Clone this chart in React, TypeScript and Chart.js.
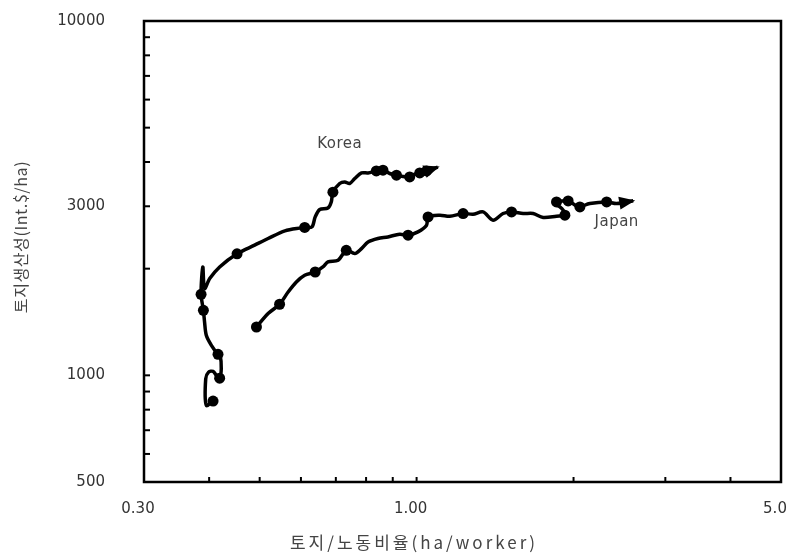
import { useEffect, useRef } from "react";
import { Chart, registerables } from "chart.js";

Chart.register(...registerables);

// Korea path (land/labour ratio, land productivity)
const koreaX = [0.407, 0.395, 0.394, 0.399, 0.407, 0.413, 0.419, 0.422, 0.420, 0.416, 0.404, 0.395, 0.392, 0.390, 0.386, 0.389, 0.392, 0.401, 0.419, 0.4525, 0.489, 0.519, 0.559, 0.601, 0.610, 0.630, 0.639, 0.652, 0.676, 0.686, 0.691, 0.712, 0.728, 0.744, 0.761, 0.784, 0.807, 0.837, 0.862, 0.888, 0.915, 0.935, 0.970, 0.992, 1.014, 1.045, 1.098];
const koreaY = [846, 823, 978, 1021, 1026, 1000, 982, 1044, 1139, 1146, 1215, 1297, 1414, 1526, 1693, 2022, 1757, 1875, 2022, 2203, 2330, 2433, 2557, 2607, 2614, 2624, 2800, 2938, 2968, 3086, 3287, 3478, 3515, 3478, 3593, 3726, 3726, 3775, 3792, 3712, 3671, 3647, 3630, 3695, 3726, 3775, 3870];

// Japan path
const japanX = [0.493, 0.519, 0.546, 0.567, 0.588, 0.610, 0.639, 0.661, 0.676, 0.707, 0.733, 0.761, 0.784, 0.807, 0.843, 0.881, 0.928, 0.963, 1.006, 1.045, 1.052, 1.108, 1.158, 1.228, 1.283, 1.341, 1.402, 1.465, 1.521, 1.601, 1.673, 1.749, 1.855, 1.925, 1.910, 1.883, 1.841, 1.855, 1.953, 2.027, 2.057, 2.149, 2.315, 2.419, 2.603];
const japanY = [1369, 1494, 1587, 1718, 1834, 1916, 1957, 2022, 2089, 2112, 2254, 2206, 2279, 2378, 2433, 2458, 2502, 2486, 2540, 2653, 2800, 2831, 2812, 2862, 2849, 2892, 2741, 2862, 2892, 2862, 2862, 2789, 2812, 2831, 2924, 2988, 3054, 3086, 3106, 3001, 2988, 3054, 3086, 3054, 3110];

// Marked observations
const koreaDotX = [0.407, 0.419, 0.416, 0.390, 0.386, 0.4525, 0.610, 0.691, 0.837, 0.862, 0.915, 0.970, 1.014, 1.045];
const koreaDotY = [846, 982, 1146, 1526, 1693, 2203, 2614, 3287, 3775, 3792, 3671, 3630, 3726, 3775];
const japanDotX = [0.493, 0.546, 0.639, 0.733, 0.963, 1.052, 1.228, 1.521, 1.925, 1.855, 1.953, 2.057, 2.315];
const japanDotY = [1369, 1587, 1957, 2254, 2486, 2800, 2862, 2892, 2831, 3086, 3106, 2988, 3086];

const seriesNames = ["Korea", "Japan"];
const seriesLabelX = [0.712, 2.42];
const seriesLabelY = [4494, 2711];

const xTickValues = [0.3, 0.4, 0.5, 0.6, 0.7, 0.8, 0.9, 1, 2, 3, 4, 5];
const xTickLabels = ["0.30", "", "", "", "", "", "", "1.00", "", "", "", "5.0"];
const yTickValues = [500, 600, 700, 800, 900, 1000, 2000, 3000, 4000, 5000, 6000, 7000, 8000, 9000, 10000];
const yTickLabels = ["500", "", "", "", "", "1000", "", "3000", "", "", "", "", "", "", "10000"];

const xTitle = "토지/노동비율(ha/worker)";
const yTitle = "토지생산성(Int.$/ha)";

const TICK_FONT = "'DejaVu Sans', Verdana, sans-serif";
const KR_FONT = "'Noto Sans CJK KR', 'Noto Sans', sans-serif";

function zip(xs: number[], ys: number[]) {
  return xs.map((x, i) => ({ x, y: ys[i] }));
}

function labelFor(values: number[], labels: string[], v: number) {
  const i = values.findIndex((t) => Math.abs(t - v) < 1e-9 * Math.max(1, t));
  return i >= 0 ? labels[i] : "";
}

const decorPlugin = {
  id: "decor",
  afterDatasetsDraw(chart: any) {
    const ctx = chart.ctx;
    ctx.save();
    ctx.fillStyle = "#000";
    [0, 1].forEach((di) => {
      const pts = chart.getDatasetMeta(di).data;
      const n = pts.length;
      const tip = pts[n - 1];
      const prev = pts[n - 2];
      const ang = Math.atan2(tip.y - prev.y, tip.x - prev.x);
      const len = 14;
      const half = 6.5;
      const bx = tip.x - len * Math.cos(ang);
      const by = tip.y - len * Math.sin(ang);
      ctx.beginPath();
      ctx.moveTo(tip.x + 2 * Math.cos(ang), tip.y + 2 * Math.sin(ang));
      ctx.lineTo(bx - half * Math.sin(ang), by + half * Math.cos(ang));
      ctx.lineTo(bx + half * Math.sin(ang), by - half * Math.cos(ang));
      ctx.closePath();
      ctx.fill();
    });
    ctx.restore();
  },
  afterDraw(chart: any) {
    const { ctx, chartArea: a, scales } = chart;
    ctx.save();
    ctx.strokeStyle = "#000";
    ctx.lineWidth = 2.5;
    ctx.strokeRect(a.left, a.top, a.right - a.left, a.bottom - a.top);
    ctx.lineWidth = 2;
    xTickValues.forEach((v) => {
      const px = scales.x.getPixelForValue(v);
      ctx.beginPath();
      ctx.moveTo(px, a.bottom);
      ctx.lineTo(px, a.bottom - 5);
      ctx.stroke();
    });
    yTickValues.forEach((v) => {
      const py = scales.y.getPixelForValue(v);
      ctx.beginPath();
      ctx.moveTo(a.left, py);
      ctx.lineTo(a.left + 6, py);
      ctx.stroke();
    });

    // series labels
    ctx.fillStyle = "#444";
    ctx.font = `15px ${TICK_FONT}`;
    ctx.textAlign = "center";
    ctx.textBaseline = "middle";
    (ctx as any).letterSpacing = "0.5px";
    seriesNames.forEach((name, i) => {
      ctx.fillText(name, scales.x.getPixelForValue(seriesLabelX[i]), scales.y.getPixelForValue(seriesLabelY[i]));
    });

    // axis titles
    ctx.fillStyle = "#444";
    ctx.font = `17px ${KR_FONT}`;
    (ctx as any).letterSpacing = "3px";
    ctx.fillText(xTitle, 414, 543);
    ctx.font = `16px ${KR_FONT}`;
    (ctx as any).letterSpacing = "0.6px";
    ctx.translate(21, 237);
    ctx.rotate(-Math.PI / 2);
    ctx.fillText(yTitle, 0, 0);
    (ctx as any).letterSpacing = "0px";
    ctx.restore();
  },
};

export default function App() {
  const ref = useRef<HTMLCanvasElement | null>(null);

  useEffect(() => {
    document.body.style.margin = "0";
    const canvas = ref.current;
    if (!canvas) return;
    const chart = new Chart(canvas, {
      type: "line",
      data: {
        datasets: [
          {
            label: "Korea",
            data: zip(koreaX, koreaY),
            borderColor: "#000",
            borderWidth: 3.5,
            pointRadius: 0,
            tension: 0.3,
            fill: false,
          },
          {
            label: "Japan",
            data: zip(japanX, japanY),
            borderColor: "#000",
            borderWidth: 3.5,
            pointRadius: 0,
            tension: 0.3,
            fill: false,
          },
          {
            label: "Korea points",
            data: zip(koreaDotX, koreaDotY),
            showLine: false,
            pointRadius: 5.5,
            pointBackgroundColor: "#000",
            pointBorderColor: "#000",
            pointBorderWidth: 0,
          },
          {
            label: "Japan points",
            data: zip(japanDotX, japanDotY),
            showLine: false,
            pointRadius: 5.5,
            pointBackgroundColor: "#000",
            pointBorderColor: "#000",
            pointBorderWidth: 0,
          },
        ],
      },
      options: {
        responsive: false,
        animation: false,
        events: [],
        layout: { padding: { left: 0, right: 11, top: 21, bottom: 0 } },
        plugins: { legend: { display: false }, tooltip: { enabled: false } },
        scales: {
          x: {
            type: "logarithmic",
            min: 0.3,
            max: 5,
            grid: { display: false },
            border: { display: false },
            afterBuildTicks: (s: any) => {
              s.ticks = xTickValues.map((v) => ({ value: v }));
            },
            afterFit: (s: any) => {
              s.height = 73;
              s.paddingLeft = 0;
              s.paddingRight = 0;
            },
            ticks: {
              autoSkip: false,
              maxRotation: 0,
              padding: 10,
              labelOffset: -6,
              color: "#333",
              font: { family: TICK_FONT, size: 15 },
              callback: (v: any) => labelFor(xTickValues, xTickLabels, Number(v)),
            },
          },
          y: {
            type: "logarithmic",
            min: 500,
            max: 10000,
            grid: { display: false },
            border: { display: false },
            afterBuildTicks: (s: any) => {
              s.ticks = yTickValues.map((v) => ({ value: v }));
            },
            afterFit: (s: any) => {
              s.width = 144;
              s.paddingTop = 0;
              s.paddingBottom = 0;
            },
            ticks: {
              autoSkip: false,
              padding: 31,
              color: "#333",
              font: { family: TICK_FONT, size: 15 },
              callback: (v: any) => labelFor(yTickValues, yTickLabels, Number(v)),
            },
          },
        },
      },
      plugins: [decorPlugin],
    } as any);
    return () => chart.destroy();
  }, []);

  return (
    <div style={{ position: "fixed", left: 0, top: 0, width: 792, height: 555, background: "#fff" }}>
      <canvas ref={ref} width={792} height={555} style={{ width: 792, height: 555 }} />
    </div>
  );
}
